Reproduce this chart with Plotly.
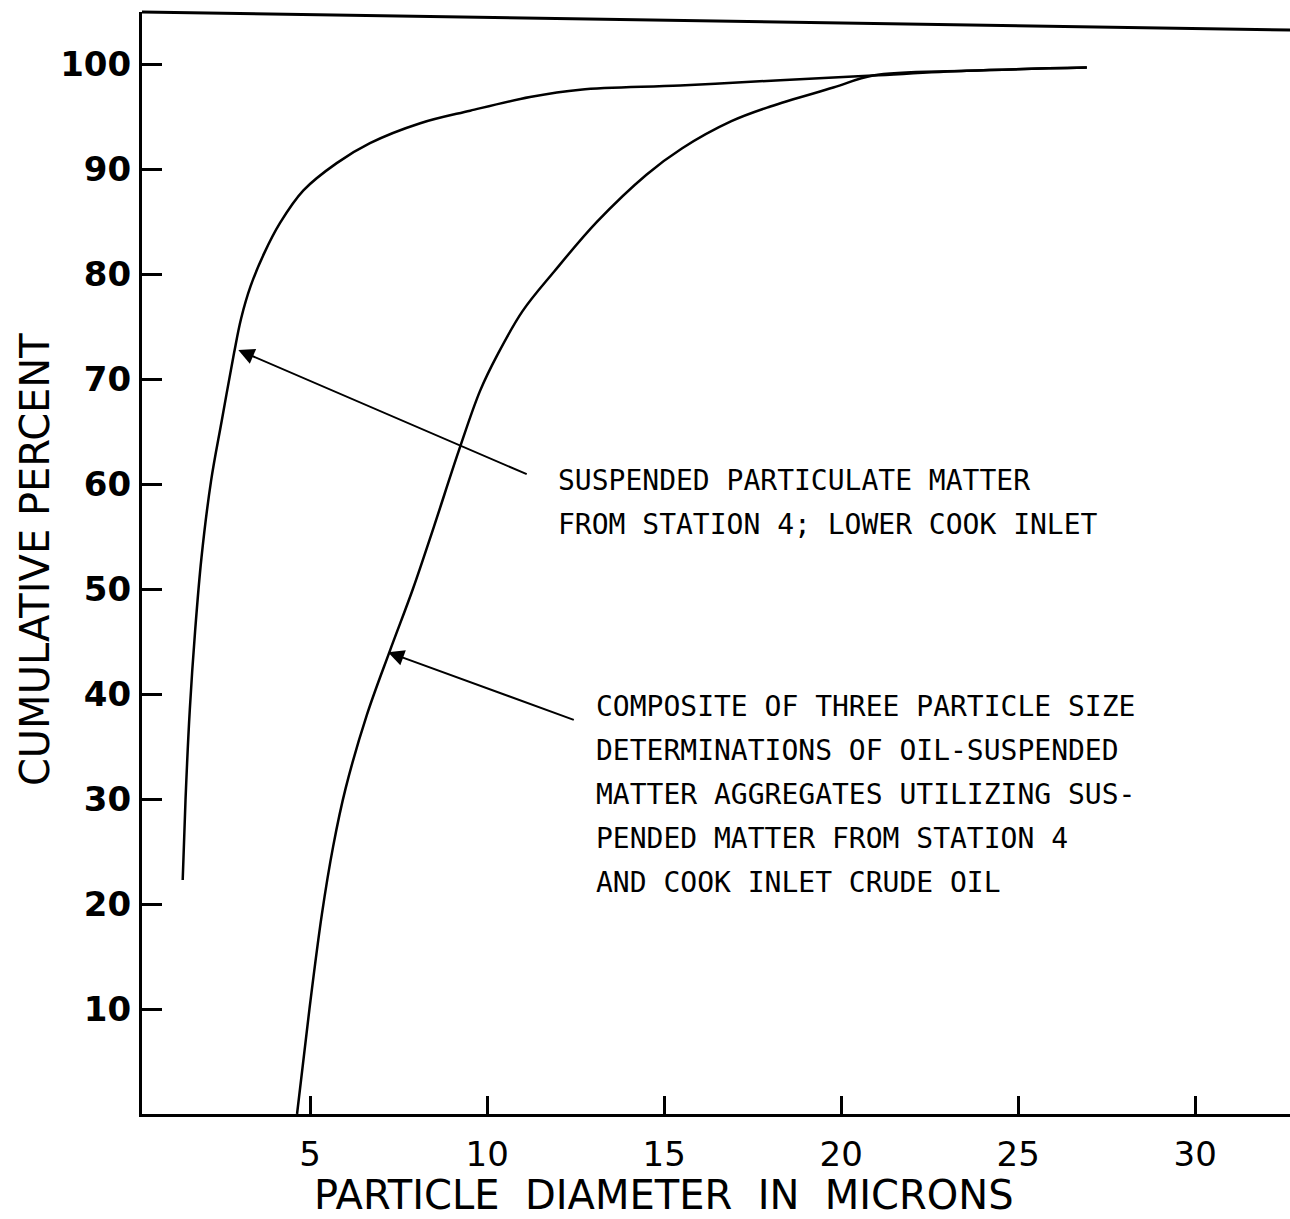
import plotly.graph_objects as go

# Suspended particulate matter, station 4 (lower Cook Inlet)
station_x = [1.40, 1.48, 1.60, 1.75, 1.93, 2.20, 2.50, 2.85, 3.05, 3.32, 3.70, 4.15, 4.81, 5.75, 6.69, 8.11, 9.52, 11.21, 12.63, 15.45, 18.28, 20.9, 23.55, 26.94]
station_y = [22.3, 30.0, 38.5, 46.0, 53.0, 60.3, 66.0, 72.5, 75.8, 78.9, 82.0, 84.9, 88.0, 90.6, 92.5, 94.4, 95.6, 96.9, 97.6, 98.0, 98.5, 98.95, 99.4, 99.7]

# Composite of oil-suspended matter aggregates
composite_x = [4.63, 4.98, 5.33, 5.65, 6.0, 6.6, 7.26, 7.9, 8.5, 9.2, 9.8, 10.3, 11.0, 11.9, 13.1, 14.5, 15.5, 16.9, 18.0, 19.78, 20.9, 23.55, 26.94]
composite_y = [0.0, 10.0, 19.0, 25.5, 31.0, 38.0, 44.2, 50.0, 56.0, 63.2, 68.9, 72.4, 76.5, 80.3, 85.0, 89.5, 92.0, 94.6, 96.0, 97.8, 98.95, 99.4, 99.7]

x_ticks = [5, 10, 15, 20, 25, 30]
y_ticks = [10, 20, 30, 40, 50, 60, 70, 80, 90, 100]

x_title = "PARTICLE DIAMETER IN MICRONS"
y_title = "CUMULATIVE PERCENT"

label1 = ["SUSPENDED PARTICULATE MATTER", "FROM STATION 4; LOWER COOK INLET"]
label2 = ["COMPOSITE OF THREE PARTICLE SIZE",
          "DETERMINATIONS OF OIL-SUSPENDED",
          "MATTER AGGREGATES UTILIZING SUS-",
          "PENDED MATTER FROM STATION 4",
          "AND COOK INLET CRUDE OIL"]

fig = go.Figure()
line_style = dict(color="black", width=2.5, shape="spline", smoothing=1.0)
fig.add_trace(go.Scatter(x=station_x, y=station_y, mode="lines", line=line_style, showlegend=False))
fig.add_trace(go.Scatter(x=composite_x, y=composite_y, mode="lines", line=line_style, showlegend=False))

mono = dict(family="DejaVu Sans Mono", size=28, color="black")
ann = []
for i, t in enumerate(label1):
    ann.append(dict(x=11.95, y=[60.4, 56.2][i], text=t, showarrow=False, xanchor="left", yanchor="middle", font=mono))
for i, t in enumerate(label2):
    ann.append(dict(x=13.02, y=[38.86, 34.67, 30.48, 26.29, 22.1][i], text=t, showarrow=False, xanchor="left", yanchor="middle", font=mono))
# arrows
ann.append(dict(x=2.97, y=72.8, ax=11.16, ay=60.9, axref="x", ayref="y", text="", showarrow=True,
                arrowhead=2, arrowsize=1.6, arrowwidth=2, arrowcolor="black"))
ann.append(dict(x=7.2, y=44.0, ax=12.49, ay=37.5, axref="x", ayref="y", text="", showarrow=True,
                arrowhead=2, arrowsize=1.6, arrowwidth=2, arrowcolor="black"))
# axis titles
title_font = dict(family="DejaVu Sans", size=40, color="black")
ann.append(dict(x=15.0, y=-0.0735, xref="x", yref="paper", text=x_title.replace(" ", "\u00a0\u00a0"),
                showarrow=False, xanchor="center", yanchor="middle", font=title_font))
ann.append(dict(x=-0.093, y=52.8, xref="paper", yref="y", text=y_title, textangle=-90,
                showarrow=False, xanchor="center", yanchor="middle", font=title_font))

fig.update_layout(
    width=1290, height=1219,
    margin=dict(l=142, r=0, t=12, b=105),
    plot_bgcolor="white", paper_bgcolor="white",
    annotations=ann,
    shapes=[dict(type="line", xref="x domain", yref="y domain", x0=0, y0=1, x1=1, y1=1 - 18/1102,
                 line=dict(color="black", width=3))],
    xaxis=dict(range=[0.25, 32.68], tickvals=x_ticks, ticktext=[str(v) for v in x_ticks],
               ticks="inside", ticklen=18, tickwidth=3, tickcolor="black",
               showline=True, linecolor="black", linewidth=3, showgrid=False, zeroline=False,
               tickfont=dict(family="DejaVu Sans", size=34, color="black"), ticklabelstandoff=8),
    yaxis=dict(range=[0, 105], tickvals=y_ticks, ticktext=[str(v) for v in y_ticks],
               ticks="inside", ticklen=20, tickwidth=3, tickcolor="black",
               showline=True, linecolor="black", linewidth=3, showgrid=False, zeroline=False,
               tickfont=dict(family="DejaVu Sans", size=34, color="black", weight="bold"), ticklabelstandoff=1),
)
fig.write_html("out.html")
